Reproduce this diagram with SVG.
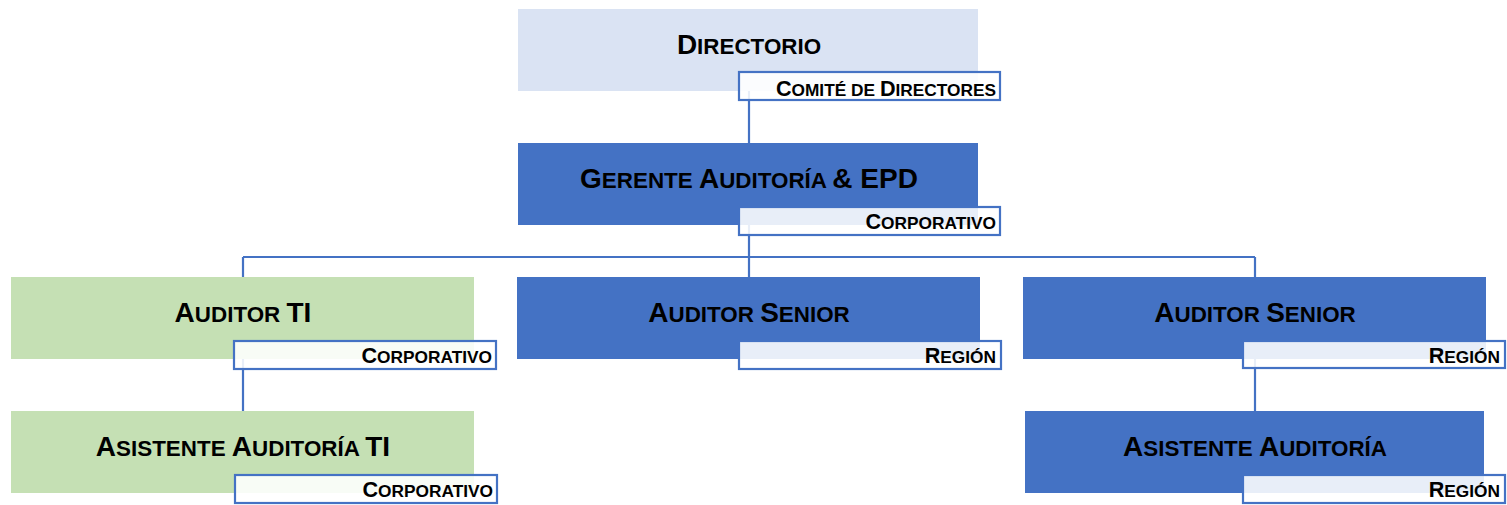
<svg xmlns="http://www.w3.org/2000/svg" width="1507" height="505" viewBox="0 0 1507 505">
<style>
.box-blue{fill:#4472c4}
.box-green{fill:#c5e0b4}
.box-light{fill:#dae3f3}
.lab{fill:#ffffff;fill-opacity:0.88;stroke:#4472c4;stroke-width:2.2}
.conn{stroke:#4472c4;stroke-width:2.2;fill:none}
.t{font-family:"Liberation Sans",Arial,sans-serif;font-weight:bold;fill:#000;text-anchor:middle;font-size:22.4px}
.t .B{font-size:28px}
.l{font-family:"Liberation Sans",Arial,sans-serif;font-weight:bold;fill:#000;text-anchor:end;font-size:17.3px}
.l .B{font-size:21.6px}
</style>
<g id="connectors">
<line class="conn" x1="749" y1="91" x2="749" y2="143"/>
<line class="conn" x1="749" y1="225" x2="749" y2="277"/>
<line class="conn" x1="243" y1="257" x2="1255" y2="257"/>
<line class="conn" x1="243" y1="257" x2="243" y2="277"/>
<line class="conn" x1="1255" y1="257" x2="1255" y2="277"/>
<line class="conn" x1="243" y1="359" x2="243" y2="411"/>
<line class="conn" x1="1255" y1="359" x2="1255" y2="411"/>
</g>
<g id="directorio">
<rect class="box-light" x="518" y="9" width="460" height="82"/>
<text class="t" x="749" y="54"><tspan class="B">D</tspan>IRECTORIO</text>
<rect class="lab" x="739" y="72" width="261" height="28"/>
<text class="l" x="996" y="96"><tspan class="B">C</tspan>OMITÉ DE <tspan class="B">D</tspan>IRECTORES</text>
</g>
<g id="gerente">
<rect class="box-blue" x="518" y="143" width="460" height="82"/>
<text class="t" x="749" y="188"><tspan class="B">G</tspan>ERENTE <tspan class="B">A</tspan>UDITORÍA <tspan class="B">&amp; EPD</tspan></text>
<rect class="lab" x="739" y="207" width="261" height="28"/>
<text class="l" x="996" y="229"><tspan class="B">C</tspan>ORPORATIVO</text>
</g>
<g id="auditor-ti">
<rect class="box-green" x="11" y="277" width="463" height="82"/>
<text class="t" x="243" y="322"><tspan class="B">A</tspan>UDITOR <tspan class="B">TI</tspan></text>
<rect class="lab" x="234" y="341" width="262" height="28"/>
<text class="l" x="492" y="363"><tspan class="B">C</tspan>ORPORATIVO</text>
</g>
<g id="auditor-senior-1">
<rect class="box-blue" x="517" y="277" width="463" height="82"/>
<text class="t" x="749" y="322"><tspan class="B">A</tspan>UDITOR <tspan class="B">S</tspan>ENIOR</text>
<rect class="lab" x="739" y="341" width="262" height="28"/>
<text class="l" x="996" y="363"><tspan class="B">R</tspan>EGIÓN</text>
</g>
<g id="auditor-senior-2">
<rect class="box-blue" x="1023" y="277" width="463" height="82"/>
<text class="t" x="1255" y="322"><tspan class="B">A</tspan>UDITOR <tspan class="B">S</tspan>ENIOR</text>
<rect class="lab" x="1243" y="341" width="262" height="27"/>
<text class="l" x="1500" y="363"><tspan class="B">R</tspan>EGIÓN</text>
</g>
<g id="asistente-ti">
<rect class="box-green" x="11" y="411" width="463" height="82"/>
<text class="t" x="243" y="456"><tspan class="B">A</tspan>SISTENTE <tspan class="B">A</tspan>UDITORÍA <tspan class="B">TI</tspan></text>
<rect class="lab" x="235" y="475" width="262" height="28"/>
<text class="l" x="493" y="497"><tspan class="B">C</tspan>ORPORATIVO</text>
</g>
<g id="asistente">
<rect class="box-blue" x="1025" y="411" width="459" height="82"/>
<text class="t" x="1255" y="456"><tspan class="B">A</tspan>SISTENTE <tspan class="B">A</tspan>UDITORÍA</text>
<rect class="lab" x="1243" y="475" width="262" height="28"/>
<text class="l" x="1500" y="497"><tspan class="B">R</tspan>EGIÓN</text>
</g>
</svg>
